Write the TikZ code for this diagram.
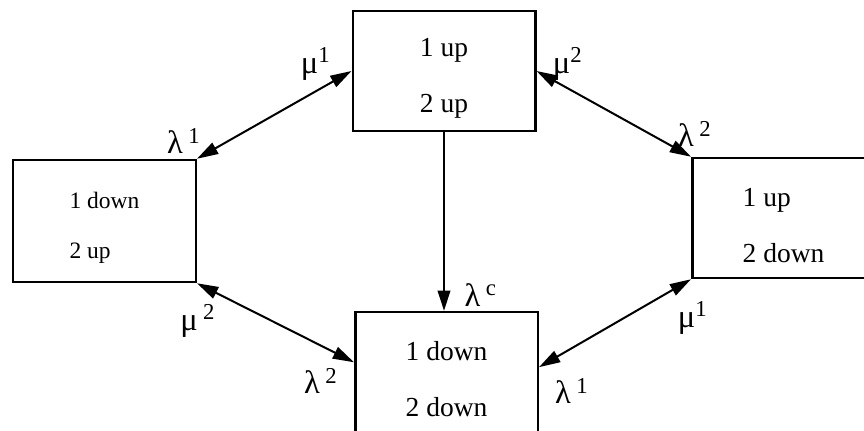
\documentclass[tikz,border=0pt]{standalone}
\usepackage{fontspec}
\setmainfont{Liberation Serif}
\usetikzlibrary{arrows.meta}
\newcommand{\lowtop}[1]{\rule{0pt}{#1}}

\begin{document}
\begin{tikzpicture}[x=0.4pt, y=-0.4pt,
    statebox/.style={draw, line width=1pt, minimum width=73pt, minimum height=48pt,
                     align=left, inner sep=0pt, font=\fontsize{11}{13.6}\selectfont},
    rate/.style={inner sep=0pt, font=\fontsize{13}{15}\selectfont},
    trans/.style={line width=0.8pt, {Triangle[length=8.5pt,width=5pt]}-{Triangle[length=8.5pt,width=5pt]}},
    fail/.style={line width=0.8pt, -{Triangle[length=8pt,width=5pt]}}]
  \useasboundingbox (0,0) rectangle (864,431);
  \clip (0,0) rectangle (864,431);
  % the four states
  \node[statebox] (upup) at (444,71) {\lowtop{13pt}1 up\\[8.8pt]2 up};
  \node[statebox, minimum height=48.8pt, font=\fontsize{9.4}{11.3}\selectfont]
       (downup) at (104.5,221) {\lowtop{12pt}1 down\\[8.7pt]2 up};
  \node[statebox] (updown) at (783.5,218) {\lowtop{13pt}1 up\\[8.8pt]2 down};
  \node[statebox] (downdown) at (446.5,372) {\lowtop{13pt}1 down\\[8.8pt]2 down};
  % transitions
  \draw[trans] (upup.west) -- (downup.north east);
  \draw[trans] (upup.east) -- (updown.north west);
  \draw[trans] (downup.south east) -- (downdown.174);
  \draw[trans] (updown.south west) -- (downdown.3);
  \draw[fail] (upup.south) -- (upup.south |- downdown.north);
  % rates
  \node[rate] (mutl) at (316,64) {μ\textsuperscript{1}};
  \node[rate] (lamtl) at (184,141) {λ\,\textsuperscript{1}};
  \node[rate] (mutr) at (568,64) {μ\textsuperscript{2}};
  \node[rate] (lamtr) at (695,134) {λ\,\textsuperscript{2}};
  \node[rate] (mubl) at (198,321) {μ\,\textsuperscript{2}};
  \node[rate] (lambl) at (321,381) {λ\,\textsuperscript{2}};
  \node[rate] (mubr) at (693,318) {μ\textsuperscript{1}};
  \node[rate] (lambr) at (572,391) {λ\,\textsuperscript{1}};
  \node[rate] (lamc) at (481,295) {λ\,\textsuperscript{c}};
\end{tikzpicture}
\end{document}
